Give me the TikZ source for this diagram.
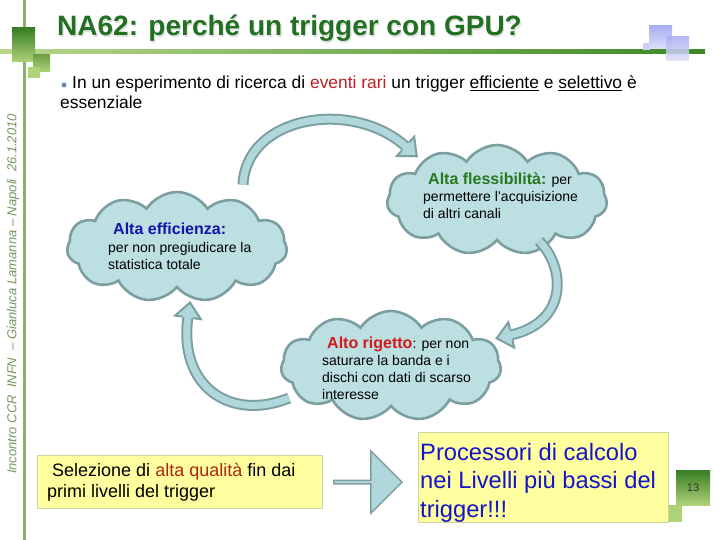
\documentclass[tikz,border=0pt]{standalone}
\usepackage{fontspec}
\setmainfont{Liberation Sans}
\usetikzlibrary{shapes.symbols,shapes.arrows,decorations.markings}

\definecolor{titlegreen}{RGB}{34,112,34}
\definecolor{flexgreen}{RGB}{40,120,30}
\definecolor{effblue}{RGB}{20,20,170}
\definecolor{procblue}{RGB}{20,20,200}
\definecolor{rigred}{RGB}{210,25,25}
\definecolor{evred}{RGB}{190,30,35}
\definecolor{qualred}{RGB}{170,40,20}
\definecolor{sidegreen}{RGB}{120,150,95}
\definecolor{vline}{RGB}{140,175,105}
\definecolor{hlinelight}{RGB}{185,215,140}
\definecolor{hlinedark}{RGB}{60,135,40}
\definecolor{sqdark}{RGB}{55,125,35}
\definecolor{sqmid}{RGB}{110,160,70}
\definecolor{sqlight}{RGB}{175,210,120}
\definecolor{lavender}{RGB}{170,175,240}
\definecolor{cloudfill}{RGB}{188,223,226}
\definecolor{cloudline}{RGB}{125,158,160}
\definecolor{bandfill}{RGB}{175,215,220}
\definecolor{boxfill}{RGB}{255,255,160}
\definecolor{boxline}{RGB}{200,215,160}
\definecolor{bulletblue}{RGB}{110,140,175}

\tikzset{
	cloudbox/.style={cloud, cloud puffs=11, cloud puff arc=115, draw=cloudline, fill=cloudfill, line width=2.6pt, minimum width=220pt, minimum height=110pt, inner sep=0pt},
	cloudtext/.style={anchor=north west, align=left, inner sep=0pt, font=\fontsize{14}{17}\selectfont},
	yellowbox/.style={draw=boxline, fill=boxfill, line width=1.2pt, anchor=north west, inner sep=0pt},
	bandarrow/.style={line width=7pt, draw=bandfill,
		preaction={draw=cloudline, line width=11pt},
		postaction={decorate, decoration={markings, mark=at position 0.997 with {
			\fill[bandfill] (0pt,-13pt) -- (15pt,0pt) -- (0pt,13pt) -- cycle;
			\draw[cloudline, line width=2pt, line join=miter] (0pt,5.5pt) -- (0pt,13pt) -- (15pt,0pt) -- (0pt,-13pt) -- (0pt,-5.5pt);}}}},
}
\newcommand{\headtext}[2]{{\fontsize{16}{17}\selectfont\bfseries\textcolor{#1}{#2}}}

\begin{document}
\begin{tikzpicture}[x=1pt,y=-1pt]
	\useasboundingbox (0,0) rectangle (720,540);
	\fill[vline] (23,0) rectangle (26,540);
	\shade[left color=hlinelight, right color=hlinedark] (0,50) rectangle (705,54);
	\shade[top color=sqdark, bottom color=sqlight] (12,28) rectangle (35,62);
	\shade[top color=sqmid, bottom color=sqlight] (33,55) rectangle (50,72);
	\fill[sqlight] (28,67) rectangle (40,78);
	\fill[lavender!60] (643,43) rectangle (650,50);
	\shade[top color=lavender, bottom color=lavender!40] (649,26) rectangle (672,49);
	\shade[top color=lavender, bottom color=lavender!40, opacity=0.85] (666,37) rectangle (689,61);

	\node(titleshadow) at (58.2,37.2) [anchor=base west, inner sep=0pt, font=\fontsize{28}{32}\selectfont\bfseries, text=black!12] {NA62: perché un trigger con GPU?};
	\node(title) at (57,36) [anchor=base west, inner sep=0pt, font=\fontsize{28}{32}\selectfont\bfseries, text=titlegreen] {NA62: perché un trigger con GPU?};
	\node(footer) at (13,294) [rotate=90, inner sep=0pt, font=\fontsize{13}{15}\selectfont\itshape, text=sidegreen] {Incontro CCR\ \ INFN\ \ – Gianluca Lamanna – Napoli\ \ 26.1.2010};

	\node(bullet) at (64,85) [circle, fill=bulletblue, inner sep=0pt, minimum size=5pt] {};
	\node(intro) at (72,89) [anchor=base west, inner sep=0pt, font=\fontsize{17.4}{20}\selectfont] {In un esperimento di ricerca di \textcolor{evred}{eventi rari} un trigger \underline{efficiente} e \underline{selettivo} è};
	\node(intro2) at (60,109) [anchor=base west, inner sep=0pt, font=\fontsize{17.4}{20}\selectfont] {essenziale};

	\node(eff) at (177,247) [cloudbox] {};
	\node(flex) at (497,200) [cloudbox] {};
	\node(rig) at (391,366) [cloudbox] {};

	\node(efftxt) at (108,223) [cloudtext] {\hspace*{5pt}\headtext{effblue}{Alta efficienza:}\\[1pt] per non pregiudicare la\\ statistica totale};
	\node(flextxt) at (423,173) [cloudtext] {\hspace*{5pt}\headtext{flexgreen}{Alta flessibilità:} per\\ permettere l'acquisizione\\ di altri canali};
	\node(rigtxt) at (322,337) [cloudtext] {\hspace*{5pt}\headtext{rigred}{Alto rigetto}: per non\\ saturare la banda e i\\ dischi con dati di scarso\\ interesse};

	\draw[bandarrow] ([shift={(66pt,6pt)}]eff.north) .. controls (246,116) and (352,98) .. ([shift={(-91pt,-3pt)}]flex.north);
	\draw[bandarrow] ([shift={(42pt,1pt)}]flex.south) .. controls (566,268) and (568,322) .. ([shift={(9pt,31pt)}]rig.east);
	\draw[bandarrow] ([shift={(9pt,-32pt)}]rig.west) .. controls (230,422) and (178,386) .. ([shift={(11pt,-28pt)}]eff.south);

	\fill[sqlight] (666,505) rectangle (682,522);
	\node(selbox) at (37,455) [yellowbox, minimum width=285pt, minimum height=53pt] {};
	\node(seltxt) at ([shift={(10pt,-8pt)}]selbox.north west) [anchor=north west, align=left, inner sep=0pt, font=\fontsize{18}{21}\selectfont] {\ Selezione di \textcolor{qualred}{alta qualità} fin dai\\primi livelli del trigger};
	\node(procbox) at (418,432) [yellowbox, minimum width=250pt, minimum height=90pt] {};
	\node(proctxt) at ([shift={(2pt,-11pt)}]procbox.north west) [anchor=north west, align=left, inner sep=0pt, font=\fontsize{23.7}{28.5}\selectfont, text=procblue] {Processori di calcolo\\nei Livelli più bassi del\\trigger!!!};
	\node(bigarrow) at ([xshift=10pt]selbox.east) [single arrow, anchor=west, draw=cloudline, fill=bandfill, line width=1.5pt, minimum height=68pt, minimum width=62pt, single arrow head extend=13pt, inner sep=0pt] {};

	\shade[top color=sqdark, bottom color=sqlight] (676,470) rectangle (710,505);
	\node(pagenum) at (693,488) [font=\fontsize{11}{13}\selectfont, text=black!80] {13};
\end{tikzpicture}
\end{document}
